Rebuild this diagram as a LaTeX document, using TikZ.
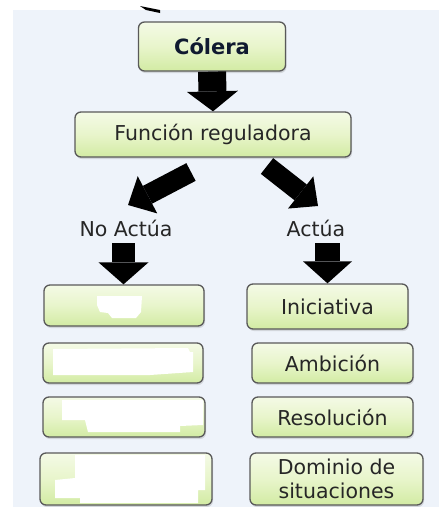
\documentclass[tikz,border=0pt]{standalone}
\usepackage{fontspec}
\setmainfont{DejaVu Sans}
\usetikzlibrary{arrows.meta,shadows,calc}
\definecolor{bg}{HTML}{EEF3FA}
\definecolor{boxline}{HTML}{595959}
\definecolor{boxtop}{HTML}{F4FAE6}
\definecolor{boxmid}{HTML}{E8F5CB}
\definecolor{boxbot}{HTML}{D2EBA3}
\definecolor{txt}{HTML}{262626}
\definecolor{titletxt}{HTML}{101A30}
\begin{document}
\begin{tikzpicture}[x=1pt,y=-1pt,
  box/.style={draw=boxline, line width=1.3pt, rounded corners=6pt,
    top color=boxtop, bottom color=boxbot, middle color=boxmid,
    drop shadow={shadow xshift=1pt, shadow yshift=-2pt, opacity=0.25},
    font=\fontsize{20.5}{24.6}\selectfont, text=txt, align=center, inner sep=0pt},
  lbl/.style={font=\fontsize{20.5}{24.6}\selectfont, text=txt, inner sep=0pt},
  barrow/.style n args={3}{draw=black, line width=#1,
    -{Triangle[length=#3,width=#2,line width=0pt]}},
  blob/.style={fill=white, draw=none}
]
\useasboundingbox (0,0) rectangle (439,507);
\fill[white] (0,0) rectangle (439,507);
\fill[bg] (13,10) rectangle (439,507);
% small remnant mark at the top
\fill[black] (140,6) -- (160,10) -- (160,13) -- (146,10) -- cycle;

% boxes
\node[box, minimum width=147pt, minimum height=49pt, font=\fontsize{21}{25}\selectfont\bfseries, text=titletxt] (col) at (212,46.5) {Cólera};
\node[box, minimum width=276pt, minimum height=45pt] (fun) at (213,134.5) {Función reguladora};

\node[lbl] (noact) at (126,228) {No Actúa};
\node[lbl] (act) at (316,228) {Actúa};

\node[box, minimum width=160pt, minimum height=41pt] (l1) at (124,305.5) {};
\node[box, minimum width=160pt, minimum height=40pt] (l2) at (123,363) {};
\node[box, minimum width=162pt, minimum height=40pt] (l3) at (124,417) {};
\node[box, minimum width=172pt, minimum height=52pt] (l4) at (126,479) {};

\node[box, minimum width=161pt, minimum height=45pt] (r1) at (327.5,306.5) {Iniciativa};
\node[box, minimum width=161pt, minimum height=40pt] (r2) at (332.5,363) {Ambición};
\node[box, minimum width=161pt, minimum height=40pt] (r3) at (332.5,417) {Resolución};
\node[box, minimum width=173pt, minimum height=52pt] (r4) at (336.5,479) {Dominio de\\situaciones};

% erased areas in the left boxes
\fill[blob] (97,296) -- (142,296) -- (141,312) -- (136,318) -- (112,318) -- (108,313) -- (100,312) -- (97,305) -- cycle;
\fill[blob] (53,349) -- (188,348) -- (190,352) -- (193,352) -- (193,372) -- (150,375) -- (53,375) -- cycle;
\fill[blob] (62,400) -- (203,400) -- (203,425) -- (180,426) -- (180,432) -- (88,432) -- (85,420) -- (62,420) -- cycle;
\fill[blob] (75,455) -- (205,455) -- (205,490) -- (198,490) -- (198,503) -- (80,503) -- (80,498) -- (55,498) -- (55,480) -- (75,478) -- cycle;

% connectors
\coordinate (ld1) at (191,172);
\coordinate (ld2) at (128,205);
\coordinate (rd1) at (267,166);
\coordinate (rd2) at (318,206);
\coordinate (ls) at (123.5,243);
\coordinate (rs) at (327.5,243);

\draw[barrow={28pt}{51pt}{20pt}] (col.south) -- (fun.north);
\draw[barrow={20pt}{42pt}{22pt}] (ld1) -- (ld2);
\draw[barrow={20pt}{41pt}{22pt}] (rd1) -- (rd2);
\draw[barrow={23pt}{50pt}{22pt}] (ls) -- (ls |- l1.north);
\draw[barrow={25pt}{49pt}{22pt}] (rs) -- (rs |- r1.north);
\end{tikzpicture}
\end{document}
